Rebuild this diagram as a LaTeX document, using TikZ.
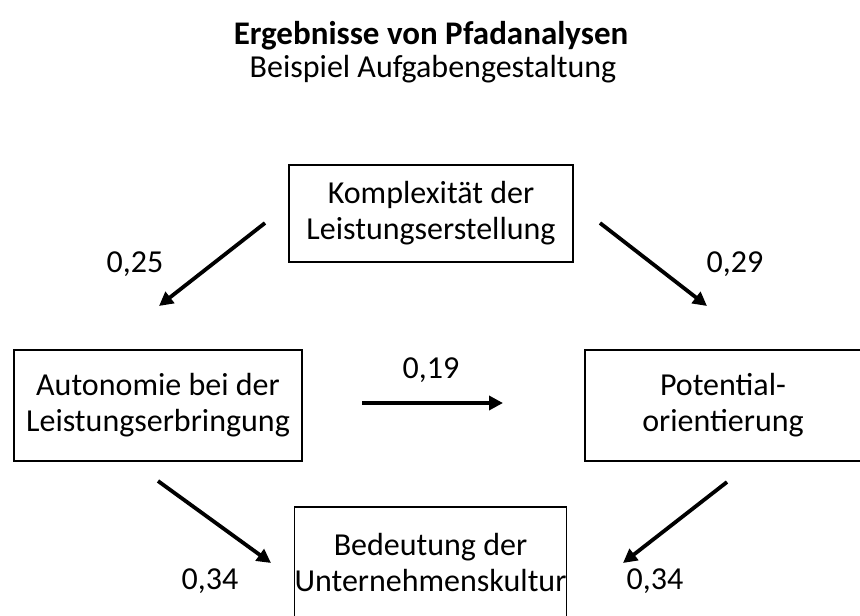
\documentclass[tikz,border=0pt]{standalone}
\usepackage{fontspec}
\setmainfont{Carlito}
\usetikzlibrary{arrows.meta}
\begin{document}
\begin{tikzpicture}[x=1pt,y=-1pt,
  box/.style={draw=black,line width=1.3pt,inner sep=0pt,align=center,
    font=\fontsize{32}{36}\selectfont},
  lbl/.style={font=\fontsize{32}{36}\selectfont,inner sep=0pt},
  arr/.style={line width=3.8pt,-{Triangle[length=14pt,width=14pt]}}]
\useasboundingbox (0,0) rectangle (860,616);
\clip (0,0) rectangle (860,616);
\fill[white] (0,0) rectangle (860,616);
\node[lbl,font=\fontsize{33}{36}\bfseries\selectfont] (title) at (431,36) {Ergebnisse von Pfadanalysen};
\node[lbl] (sub) at (433,69) {Beispiel Aufgabengestaltung};
\node[box,minimum width=284pt,minimum height=97pt] (top) at (431,213.5) {Komplexität der\\Leistungserstellung};
\node[box,minimum width=288pt,minimum height=111pt] (left) at (158,405.5) {Autonomie bei der\\Leistungserbringung};
\node[box,minimum width=276pt,minimum height=111pt] (right) at (723,405.5) {Potential-\\orientierung};
\node[box,minimum width=269pt,minimum height=112pt] (bot) at (430.5,563) {Bedeutung der\\Unternehmenskultur};
\coordinate (a1s) at (265,223); \coordinate (a1e) at (159,306);
\coordinate (a2s) at (600,223); \coordinate (a2e) at (707,306);
\coordinate (a3s) at (362,403); \coordinate (a3e) at (503,403);
\coordinate (a4s) at (158,481); \coordinate (a4e) at (271,563);
\coordinate (a5s) at (727,482); \coordinate (a5e) at (623,563);
\draw[arr] (a1s) -- (a1e);
\draw[arr] (a2s) -- (a2e);
\draw[arr] (a3s) -- (a3e);
\draw[arr] (a4s) -- (a4e);
\draw[arr] (a5s) -- (a5e);
\node[lbl] (n1) at (135,264) {0,25};
\node[lbl] (n2) at (735,264) {0,29};
\node[lbl] (n3) at (431,370) {0,19};
\node[lbl] (n4) at (210,581) {0,34};
\node[lbl] (n5) at (655,581) {0,34};
\end{tikzpicture}
\end{document}
